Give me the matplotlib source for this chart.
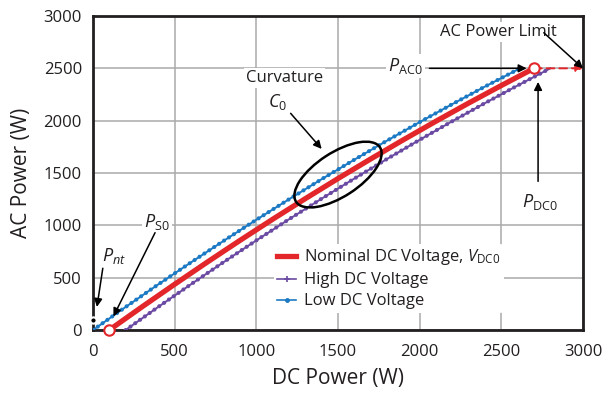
import matplotlib
matplotlib.use("Agg")
import matplotlib.pyplot as plt
from matplotlib.patches import Ellipse
from matplotlib.transforms import ScaledTranslation
from matplotlib.lines import Line2D

plt.rcParams['font.family'] = ['Open Sans', 'DejaVu Sans']
plt.rcParams['mathtext.fontset'] = 'custom'
plt.rcParams['mathtext.rm'] = 'Open Sans'
plt.rcParams['mathtext.it'] = 'Open Sans:italic'

# ---- data ----
nominal_dc = [100, 300, 500, 700, 900, 1100, 1300, 1500, 1700, 1900, 2100, 2300, 2500, 2700]
nominal_ac = [0, 221, 437, 649, 856, 1058, 1255, 1447, 1634, 1817, 1995, 2168, 2336, 2500]
high_dc = [200, 400, 600, 800, 1000, 1200, 1400, 1600, 1800, 2000, 2200, 2400, 2600, 2800]
high_ac = [0, 221, 437, 649, 856, 1058, 1255, 1447, 1634, 1817, 1995, 2168, 2336, 2500]
low_dc = [0, 200, 400, 600, 800, 1000, 1200, 1400, 1600, 1800, 2000, 2200, 2400, 2600, 2615]
low_ac = [0, 220, 436, 646, 852, 1053, 1249, 1441, 1627, 1809, 1986, 2158, 2326, 2488, 2500]
ticks = [0, 500, 1000, 1500, 2000, 2500, 3000]
p_ac0 = 2500
p_dc0 = 2700
p_s0 = 100
p_nt = 100
ac_limit_dc = 3000

red = '#e3262a'
blue = '#1c7ac4'
purple = '#6a4aa2'

fig = plt.figure(figsize=(6.02, 3.97), dpi=100)
ax = fig.add_axes([93/602, 1-330/397, 490/602, 314/397])
ax.set_xlim(0, 3000)
ax.set_ylim(0, 3000)
ax.set_xticks(ticks)
ax.set_yticks(ticks)
ax.grid(True, color='#aaaaaa', lw=1.1)
ax.set_axisbelow(True)
ax.tick_params(length=0, labelsize=12, colors='#231f20')
ax.tick_params(axis='x', pad=10)
ax.tick_params(axis='y', pad=8)
for s in ax.spines.values():
    s.set_linewidth(2.0)
    s.set_color('#231f20')
ax.set_xlabel('DC Power (W)', fontsize=15, color='#231f20', labelpad=6)
ax.set_ylabel('AC Power (W)', fontsize=15, color='#231f20', labelpad=8)

dots = dict(linestyle=(0, (0.01, 1.4)), dash_capstyle='round', lw=3.0)
# low DC voltage
ax.plot(low_dc, low_ac, color=blue, lw=1.4, zorder=3)
ax.plot(low_dc, low_ac, color=blue, zorder=3, **dots)
# high DC voltage
ax.plot(high_dc, high_ac, color=purple, lw=1.4, zorder=3)
ax.plot(high_dc, high_ac, color=purple, zorder=3, **dots)
# nominal
ax.plot(nominal_dc, nominal_ac, color=red, lw=3.8, solid_capstyle='butt', zorder=4)

# AC power limit dashed red
ax.annotate('', xy=(ac_limit_dc, p_ac0), xytext=(p_dc0, p_ac0),
            arrowprops=dict(arrowstyle='-|>', color=red, lw=1.4, linestyle=(0, (4, 2.5)),
                            mutation_scale=10, shrinkA=0, shrinkB=0), zorder=4, annotation_clip=False)

ax.plot([p_s0, p_dc0], [0, p_ac0], 'o', ms=7.5, mfc='white', mec=red, mew=1.5,
        zorder=6, clip_on=False, ls='none')
ax.plot([0], [p_nt], 'o', ms=4.5, mfc='black', mec='white', mew=1.5, zorder=7, clip_on=False)

# ellipse
trans = fig.dpi_scale_trans + ScaledTranslation(1500, 1485, ax.transData)
ax.add_patch(Ellipse((0, 0), width=1.0, height=0.44, angle=33, transform=trans,
                     fill=False, ec='black', lw=1.8, zorder=6))

arrow = dict(arrowstyle='-|>', color='black', lw=1.1, mutation_scale=12, shrinkA=0, shrinkB=0)
wb = dict(facecolor='white', edgecolor='none', pad=1.5)
tc = '#231f20'

ax.text(2125, 2845, 'AC Power Limit', fontsize=12, color=tc, va='center', ha='left', bbox=wb, zorder=5)
ax.annotate('', xy=(3000, 2500), xytext=(2760, 2840), arrowprops=arrow, annotation_clip=False, zorder=6)

ax.text(2020, 2520, r'$P_{\mathrm{AC0}}$', fontsize=13, color=tc, va='center', ha='right', bbox=wb, zorder=5)
ax.annotate('', xy=(2655, 2500), xytext=(2060, 2500), arrowprops=arrow, zorder=6)

ax.text(2737, 1220, r'$P_{\mathrm{DC0}}$', fontsize=13, color=tc, va='center', ha='center', bbox=wb, zorder=5)
ax.annotate('', xy=(2725, 2370), xytext=(2725, 1420), arrowprops=arrow, zorder=6)

ax.text(1175, 2410, 'Curvature', fontsize=12, color=tc, va='center', ha='center', bbox=wb, zorder=5)
ax.text(1130, 2180, r'$C_{\mathrm{0}}$', fontsize=13, color=tc, va='center', ha='center', zorder=5)
ax.annotate('', xy=(1400, 1730), xytext=(1210, 2070), arrowprops=arrow, zorder=6)

ax.text(390, 1030, r'$P_{\mathrm{S0}}$', fontsize=13, color=tc, va='center', ha='center', bbox=wb, zorder=5)
ax.annotate('', xy=(125, 130), xytext=(380, 930), arrowprops=arrow, zorder=6)

ax.text(130, 710, r'$P_{nt}$', fontsize=13, color=tc, va='center', ha='center', zorder=5)
ax.annotate('', xy=(24, 220), xytext=(60, 590), arrowprops=arrow, zorder=6)

handles = [
    Line2D([], [], color=red, lw=3.8),
    Line2D([], [], color=purple, lw=1.2, marker='+', ms=4, mew=1.2),
    Line2D([], [], color=blue, lw=1.2, marker='o', ms=2.5),
]
labels = [r'Nominal DC Voltage, $V_{\mathrm{DC0}}$', 'High DC Voltage', 'Low DC Voltage']
leg = ax.legend(handles, labels, loc='upper left', bbox_to_anchor=(274/602, 1-244/397),
                bbox_transform=fig.transFigure, frameon=True, fontsize=12,
                handlelength=1.1, handletextpad=0.5, labelspacing=0.3, borderpad=0.2,
                borderaxespad=0, labelcolor=tc)
leg.get_frame().set_facecolor('white')
leg.get_frame().set_edgecolor('none')
leg.get_frame().set_alpha(1)
leg.set_zorder(5)

fig.savefig('out.png', dpi=100)
